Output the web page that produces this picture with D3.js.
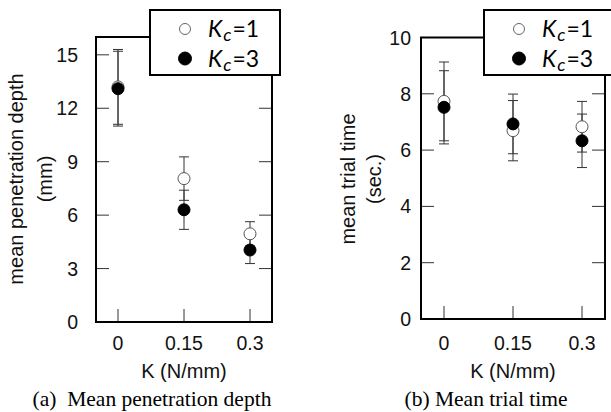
<!DOCTYPE html>
<html>
<head>
<meta charset="utf-8">
<script src="https://cdn.jsdelivr.net/npm/d3@7"></script>
<style>
  body { margin: 0; background: #fff; }
  svg { display: block; }
  .tick-label { font-family: "Liberation Sans", Arial, sans-serif; font-size: 19.5px; fill: #111; }
  .axis-title { font-family: "Liberation Sans", Arial, sans-serif; font-size: 20px; fill: #111; }
  .caption { font-family: "Liberation Serif", "Times New Roman", serif; font-size: 21.5px; fill: #000; white-space: pre; }
  .legend-text { font-family: Lato, "Open Sans", sans-serif; font-size: 23px; fill: #000; }
</style>
</head>
<body>
<div id="chart"></div>
<script>
// values
var kValues = [0, 0.15, 0.3];
var kTickLabels = ["0", "0.15", "0.3"];

var depthKc1 = [13.2, 8.05, 4.95];
var depthKc1Err = [2.1, 1.22, 0.68];
var depthKc3 = [13.1, 6.3, 4.04];
var depthKc3Err = [2.1, 1.1, 0.76];
var depthTicks = [0, 3, 6, 9, 12, 15];

var timeKc1 = [7.73, 6.69, 6.83];
var timeKc1Err = [1.4, 1.07, 0.9];
var timeKc3 = [7.52, 6.93, 6.33];
var timeKc3Err = [1.3, 1.06, 0.95];
var timeTicks = [0, 2, 4, 6, 8, 10];

var legendLabels = ["1", "3"];

var width = 611,
  height = 412;

var svg = d3.select("#chart").append("svg")
  .attr("width", width)
  .attr("height", height);

var panels = [
  {
    box: { left: 96, right: 272, top: 37, bottom: 322 },
    yMax: 16, yTicks: depthTicks, labelGap: 18,
    series: [[depthKc1, depthKc1Err], [depthKc3, depthKc3Err]],
    titleLines: ["mean penetration depth", "(mm)"],
    titleX: 23, titleGap: 29,
    caption: "(a)  Mean penetration depth", captionX: 152,
    legend: { x: 150, y: 10, w: 130, h: 65 }
  },
  {
    box: { left: 421, right: 605, top: 37.5, bottom: 319 },
    yMax: 10, yTicks: timeTicks, labelGap: 10,
    series: [[timeKc1, timeKc1Err], [timeKc3, timeKc3Err]],
    titleLines: ["mean trial time", "(sec.)"],
    titleX: 355, titleGap: 26,
    caption: "(b) Mean trial time", captionX: 486,
    legend: { x: 484, y: 10, w: 140, h: 65 }
  }
];

panels.forEach(function(p) {
  var b = p.box;
  var x = d3.scaleLinear().domain([-0.05, 0.35]).range([b.left, b.right]);
  var y = d3.scaleLinear().domain([0, p.yMax]).range([b.bottom, b.top]);
  var g = svg.append("g");

  // inward ticks on left / right / bottom
  var yTickVals = p.yTicks.filter(function(v) { return v > 0 && v < p.yMax; });
  g.selectAll(".ytl").data(yTickVals).enter().append("line")
    .attr("x1", b.left).attr("x2", b.left + 13)
    .attr("y1", function(d) { return y(d); }).attr("y2", function(d) { return y(d); })
    .attr("stroke", "#333").attr("stroke-width", 1);
  g.selectAll(".ytr").data(yTickVals).enter().append("line")
    .attr("x1", b.right).attr("x2", b.right - 13)
    .attr("y1", function(d) { return y(d); }).attr("y2", function(d) { return y(d); })
    .attr("stroke", "#333").attr("stroke-width", 1);
  g.selectAll(".xt").data(kValues).enter().append("line")
    .attr("x1", function(d) { return x(d); }).attr("x2", function(d) { return x(d); })
    .attr("y1", b.bottom).attr("y2", b.bottom - 13)
    .attr("stroke", "#333").attr("stroke-width", 1);

  // tick labels
  g.selectAll(".yl").data(p.yTicks).enter().append("text")
    .attr("class", "tick-label")
    .attr("text-anchor", "end")
    .attr("x", b.left - p.labelGap)
    .attr("y", function(d) { return y(d) + 7; })
    .text(function(d) { return d; });
  g.selectAll(".xl").data(kValues).enter().append("text")
    .attr("class", "tick-label")
    .attr("text-anchor", "middle")
    .attr("x", function(d) { return x(d); })
    .attr("y", 350)
    .text(function(d, i) { return kTickLabels[i]; });

  // axis titles
  g.append("text")
    .attr("class", "axis-title")
    .attr("text-anchor", "middle")
    .attr("x", (b.left + b.right) / 2)
    .attr("y", 378)
    .text("K (N/mm)");
  var yt = g.append("text")
    .attr("class", "axis-title")
    .attr("text-anchor", "middle")
    .attr("transform", "translate(" + p.titleX + "," + 179 + ") rotate(-90)");
  p.titleLines.forEach(function(line, i) {
    yt.append("tspan").attr("x", 0).attr("y", i * p.titleGap).text(line);
  });

  // error bars then markers, Kc=1 first so Kc=3 sits on top
  p.series.forEach(function(s) {
    var vals = s[0], errs = s[1];
    var pts = kValues.map(function(k, i) { return { k: k, v: vals[i], e: errs[i] }; });
    var eb = g.append("g").attr("stroke", "#333").attr("stroke-width", 1);
    eb.selectAll(".v").data(pts).enter().append("line")
      .attr("x1", function(d) { return x(d.k); }).attr("x2", function(d) { return x(d.k); })
      .attr("y1", function(d) { return y(d.v - d.e); }).attr("y2", function(d) { return y(d.v + d.e); });
    eb.selectAll(".ct").data(pts).enter().append("line")
      .attr("x1", function(d) { return x(d.k) - 5; }).attr("x2", function(d) { return x(d.k) + 5; })
      .attr("y1", function(d) { return y(d.v + d.e); }).attr("y2", function(d) { return y(d.v + d.e); });
    eb.selectAll(".cb").data(pts).enter().append("line")
      .attr("x1", function(d) { return x(d.k) - 5; }).attr("x2", function(d) { return x(d.k) + 5; })
      .attr("y1", function(d) { return y(d.v - d.e); }).attr("y2", function(d) { return y(d.v - d.e); });
  });
  p.series.forEach(function(s, si) {
    var vals = s[0];
    g.selectAll(".m" + si).data(kValues).enter().append("circle")
      .attr("cx", function(d) { return x(d); })
      .attr("cy", function(d, i) { return y(vals[i]); })
      .attr("r", 6)
      .attr("fill", si === 0 ? "#fff" : "#000")
      .attr("stroke", si === 0 ? "#555" : "#000")
      .attr("stroke-width", 1);
  });

  // frame
  g.append("rect")
    .attr("x", b.left).attr("y", b.top)
    .attr("width", b.right - b.left).attr("height", b.bottom - b.top)
    .attr("fill", "none").attr("stroke", "#000").attr("stroke-width", 2);

  // caption
  g.append("text")
    .attr("class", "caption")
    .attr("text-anchor", "middle")
    .attr("x", p.captionX)
    .attr("y", 406)
    .text(p.caption);

  // legend
  var L = p.legend;
  var lg = g.append("g");
  lg.append("rect")
    .attr("x", L.x).attr("y", L.y).attr("width", L.w).attr("height", L.h)
    .attr("fill", "#fff").attr("stroke", "#000").attr("stroke-width", 2);
  legendLabels.forEach(function(lab, i) {
    var cy = L.y + 19 + i * 29.5;
    lg.append("circle")
      .attr("cx", L.x + 35).attr("cy", cy)
      .attr("r", i === 0 ? 5.5 : 6.5)
      .attr("fill", i === 0 ? "#fff" : "#000")
      .attr("stroke", i === 0 ? "#666" : "#000")
      .attr("stroke-width", 1);
    var t = lg.append("text")
      .attr("class", "legend-text")
      .attr("x", L.x + 58)
      .attr("y", cy + 8);
    t.append("tspan").attr("font-style", "italic").text("K");
    t.append("tspan").attr("font-style", "italic").attr("font-size", "18px").attr("dx", 1).attr("dy", 4).text("c");
    t.append("tspan").attr("dx", 1).attr("dy", -4).text("=" + lab);
  });
});
</script>
</body>
</html>
